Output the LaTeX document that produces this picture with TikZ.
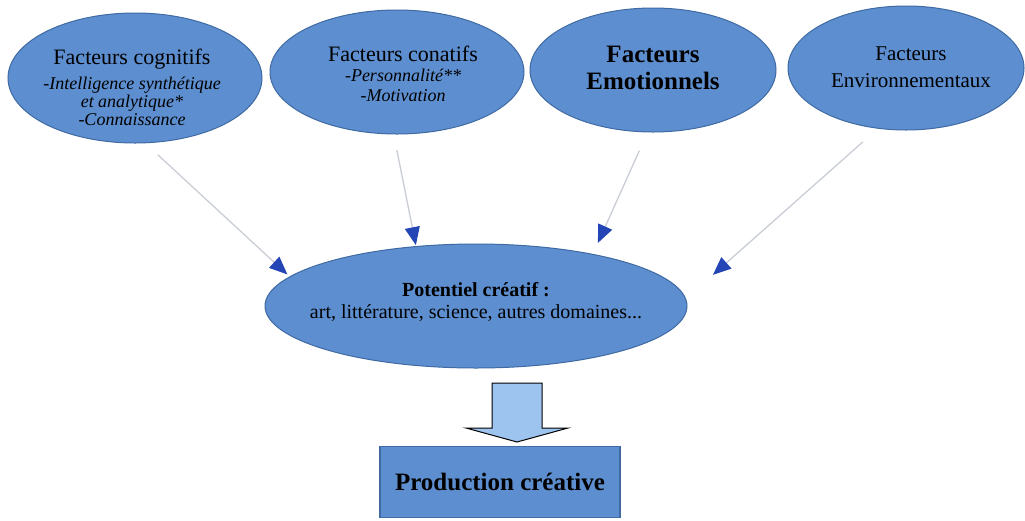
\documentclass[tikz,border=0pt]{standalone}
\usepackage{fontspec}
\setmainfont{Liberation Serif}
\usetikzlibrary{shapes.geometric,arrows.meta}

\definecolor{blobfill}{HTML}{5D8ECF}
\definecolor{blobline}{HTML}{3F6AA3}
\definecolor{tipblue}{HTML}{2445B5}
\definecolor{feedgray}{HTML}{C9CDD6}
\definecolor{bigarrow}{HTML}{9DC3EF}
\newcommand{\sz}[2]{\fontsize{#1}{#2}\selectfont}

\tikzset{
    blob/.style={ellipse, draw=blobline, fill=blobfill, line width=1pt, inner sep=0pt},
    txt/.style={align=center, inner sep=0pt, text=black},
    feed/.style={draw=feedgray, line width=1.3pt, -{Triangle[length=18pt,width=15pt,color=tipblue]}}
}

\begin{document}
\begin{tikzpicture}[x=1pt,y=-1pt]
        \useasboundingbox (0,0) rectangle (1025,520);

        % les quatre facteurs
        \node[blob, minimum width=254pt, minimum height=130pt] (cog) at (135,78) {};
        \node[blob, minimum width=254pt, minimum height=124pt] (con) at (397,72) {};
        \node[blob, minimum width=246pt, minimum height=124pt] (emo) at (653,70) {};
        \node[blob, minimum width=236pt, minimum height=124pt] (env) at (906,68) {};

        \node[txt, font=\sz{18}{18}] (cogtxt) at (132,87) {{\sz{22}{22}Facteurs cognitifs}\\[7pt]
            \itshape -Intelligence synthétique\\
            \itshape et analytique*\\
            \itshape -Connaissance};
        \node[txt, font=\sz{18}{20}] (contxt) at (403,74) {{\sz{22}{22}Facteurs conatifs}\\
            \itshape -Personnalité**\\
            \itshape -Motivation};
        \node[txt, font=\sz{25}{27}\bfseries] (emotxt) at (653,68) {Facteurs\\ Emotionnels};
        \node[txt, font=\sz{21}{27}] (envtxt) at (911,67) {Facteurs\\ Environnementaux};

        % potentiel
        \node[blob, minimum width=422pt, minimum height=124pt] (pot) at (476,306) {};
        \node[txt, font=\sz{20}{22}] (pottxt) at (476,302) {\textbf{Potentiel créatif :}\\
            art, littérature, science, autres domaines...};

        \draw[feed, shorten <=17pt, shorten >=3pt] (cog.279) -- (pot.171);
        \draw[feed, shorten <=16pt, shorten >=1pt] (con.267) -- (pot.135);
        \draw[feed, shorten <=20pt, shorten >=12pt] (emo.265) -- (pot.24);
        \draw[feed, shorten <=20pt, shorten >=36pt] (env.245) -- (pot.2);

        % production
        \draw[fill=bigarrow, line width=1pt] (492,383) -- (542,383) -- (542,428) -- (568,428)
            -- (517,442) -- (466,428) -- (492,428) -- cycle;
        \node[draw=blobline, fill=blobfill, line width=1.3pt, minimum width=240pt, minimum height=71pt,
            font=\sz{25}{25}\bfseries] (prod) at (500,482) {Production créative};
\end{tikzpicture}
\end{document}
